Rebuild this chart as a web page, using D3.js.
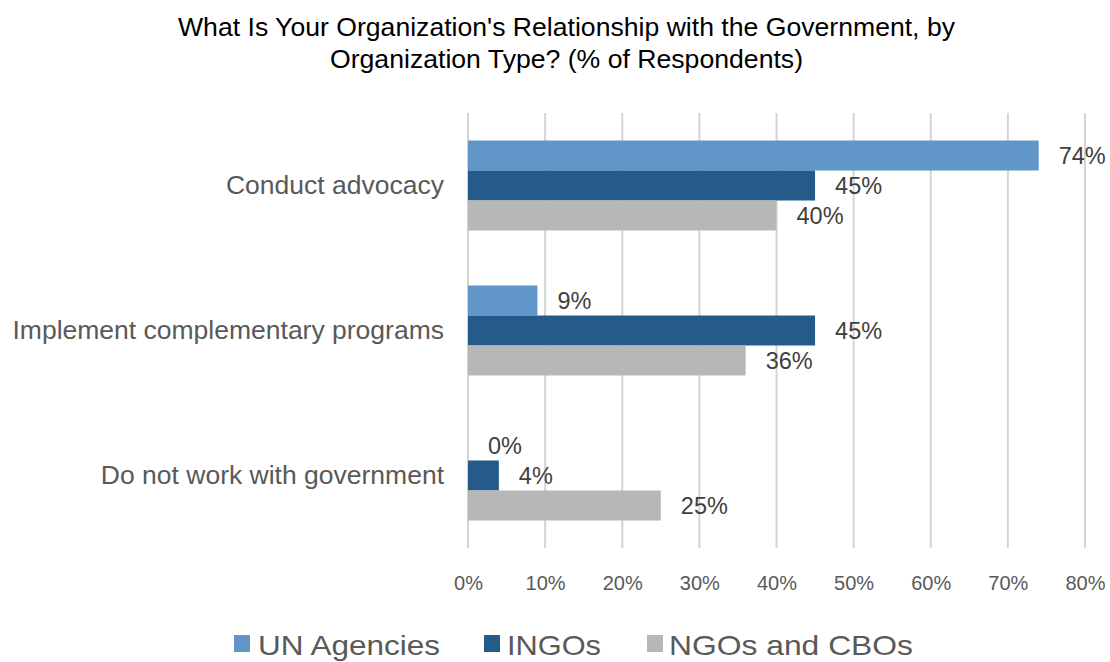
<!DOCTYPE html>
<html>
<head>
<meta charset="utf-8">
<script src="https://cdn.jsdelivr.net/npm/d3@7"></script>
<style>
  html, body { margin: 0; padding: 0; background: #fff; }
  svg { display: block; font-family: "Liberation Sans", Arial, sans-serif; }
</style>
</head>
<body>
<svg id="chart" width="1110" height="662"></svg>
<script>
// Survey responses by organization type (% of respondents)
const categories = ["Conduct advocacy", "Implement complementary programs", "Do not work with government"];
const seriesNames = ["UN Agencies", "INGOs", "NGOs and CBOs"];
const unAgencies = [74, 9, 0];
const ingos = [45, 45, 4];
const ngosCbos = [40, 36, 25];
const tickValues = [0, 10, 20, 30, 40, 50, 60, 70, 80];
const colors = ["#6096c8", "#255b8a", "#b7b7b7"];

const seriesValues = [unAgencies, ingos, ngosCbos];
const svg = d3.select("#chart");

const plot = { left: 468, right: 1085, top: 113, bottom: 548 };

const x = d3.scaleLinear().domain([0, 80]).range([plot.left, plot.right]);
const y = d3.scaleBand().domain(categories).range([plot.top, plot.bottom]);
const inner = d3.scaleBand().domain(seriesNames).range([0, 90]);
const groupOffset = (y.bandwidth() - 90) / 2;

// Title (two centred lines)
const titleLines = [
  { text: "What Is Your Organization's Relationship with the Government, by", y: 36, w: 777 },
  { text: "Organization Type? (% of Respondents)", y: 68, w: 473 }
];
svg.append("g").selectAll("text").data(titleLines).join("text")
  .attr("x", 566.5).attr("y", d => d.y)
  .attr("text-anchor", "middle")
  .attr("fill", "#000").attr("font-size", 25.5)
  .attr("textLength", d => d.w).attr("lengthAdjust", "spacingAndGlyphs")
  .text(d => d.text);

// Vertical gridlines
svg.append("g").selectAll("line").data(tickValues).join("line")
  .attr("x1", d => x(d)).attr("x2", d => x(d))
  .attr("y1", plot.top).attr("y2", plot.bottom)
  .attr("stroke", "#d4d4d4").attr("stroke-width", 2);

// X axis tick labels
const xAxis = d3.axisBottom(x).tickValues(tickValues).tickFormat(d => d + "%").tickSize(0).tickPadding(0);
const xg = svg.append("g").attr("transform", `translate(0, ${plot.bottom + 42})`).call(xAxis);
xg.select(".domain").remove();
xg.selectAll("text").attr("font-size", 20).attr("fill", "#595959")
  .attr("font-family", "Liberation Sans, Arial, sans-serif").attr("dy", "0");

// Category labels
const yAxis = d3.axisLeft(y).tickSize(0).tickPadding(24);
const yg = svg.append("g").attr("transform", `translate(${plot.left}, 0)`).call(yAxis);
yg.select(".domain").remove();
yg.selectAll("text").attr("font-size", 26.5).attr("fill", "#595959")
  .attr("font-family", "Liberation Sans, Arial, sans-serif");

// Bars and value labels
const rows = [];
categories.forEach((c, ci) => {
  seriesNames.forEach((s, si) => {
    rows.push({ cat: c, series: s, si, value: seriesValues[si][ci] });
  });
});

const barY = d => y(d.cat) + groupOffset + inner(d.series);

svg.append("g").selectAll("rect").data(rows.filter(d => d.value > 0)).join("rect")
  .attr("x", x(0))
  .attr("y", d => barY(d))
  .attr("width", d => x(d.value) - x(0))
  .attr("height", inner.bandwidth())
  .attr("fill", d => colors[d.si]);

svg.append("g").selectAll("text").data(rows).join("text")
  .attr("x", d => x(d.value) + 20)
  .attr("y", d => barY(d) + inner.bandwidth() / 2)
  .attr("dy", "0.35em")
  .attr("font-size", 23.5)
  .attr("fill", "#404040")
  .text(d => d.value + "%");

// Legend
const legendItems = [
  { name: seriesNames[0], sx: 234, tx: 258, w: 182 },
  { name: seriesNames[1], sx: 484, tx: 507, w: 94 },
  { name: seriesNames[2], sx: 647, tx: 669, w: 244 }
];
const lg = svg.append("g");
legendItems.forEach((it, i) => {
  lg.append("rect").attr("x", it.sx).attr("y", 635).attr("width", 16).attr("height", 17)
    .attr("fill", colors[i]);
  lg.append("text").attr("x", it.tx).attr("y", 655)
    .attr("font-size", 28.5).attr("fill", "#595959")
    .attr("textLength", it.w).attr("lengthAdjust", "spacingAndGlyphs")
    .text(it.name);
});
</script>
</body>
</html>
